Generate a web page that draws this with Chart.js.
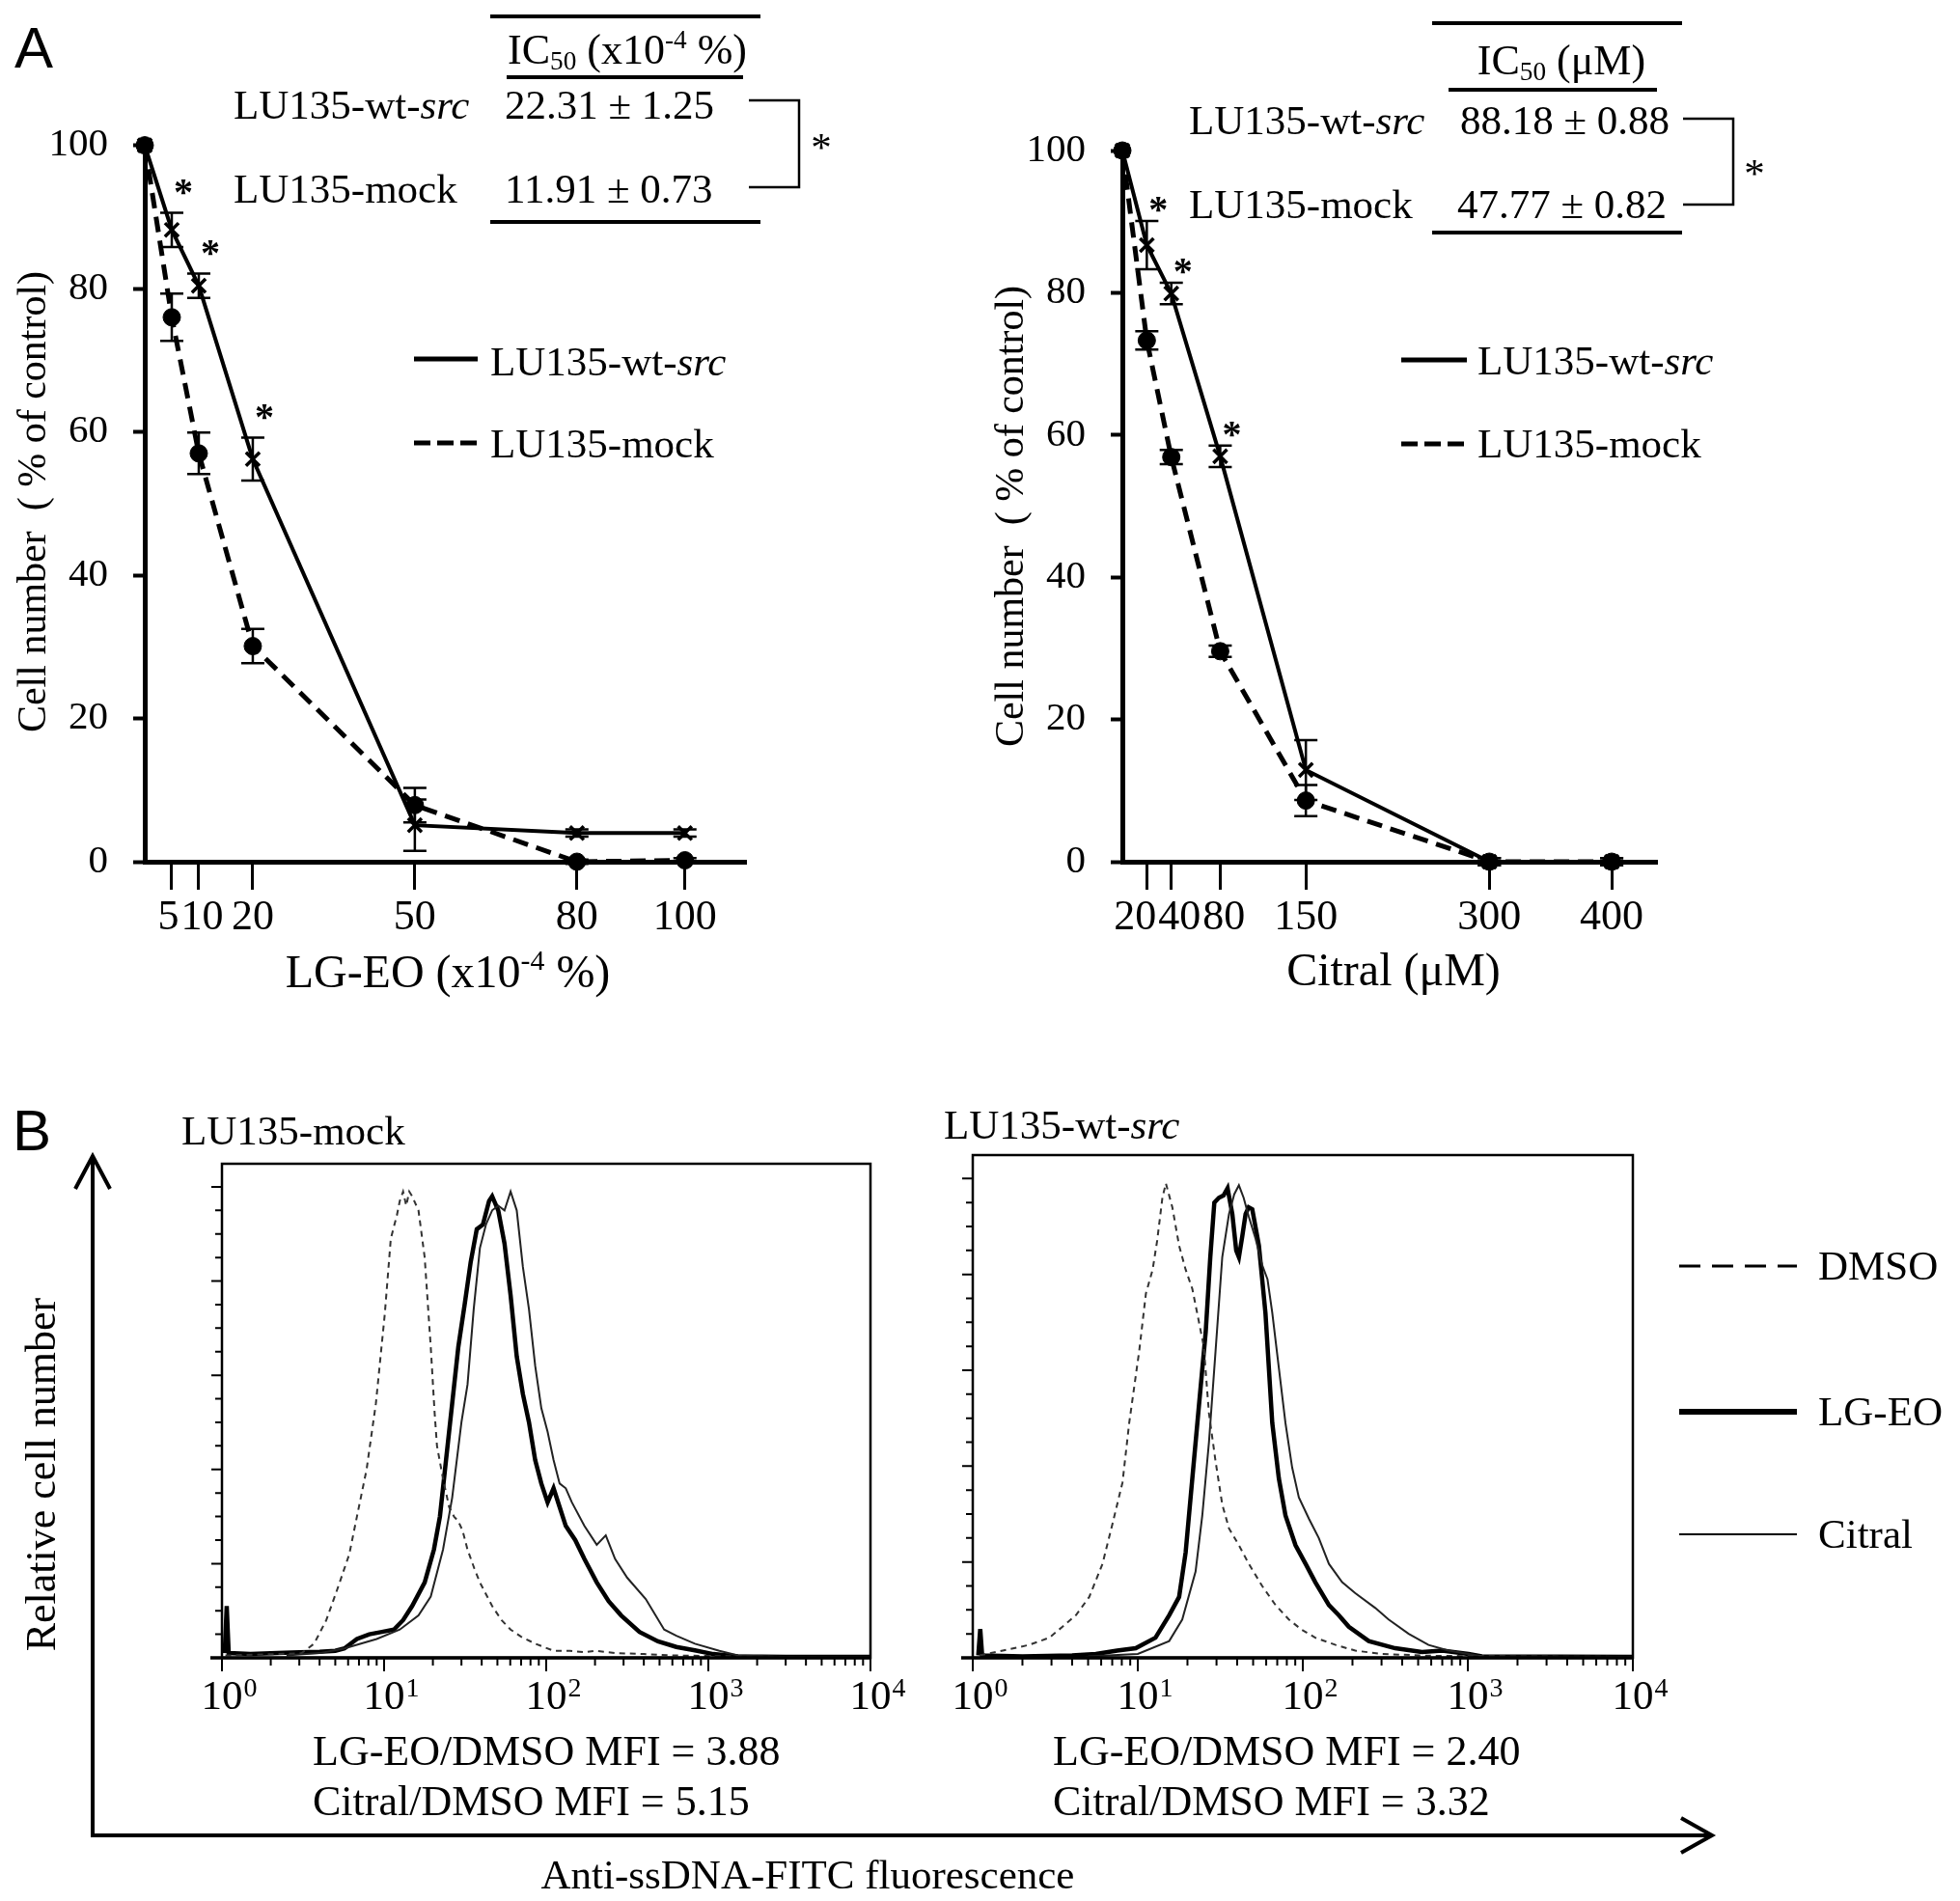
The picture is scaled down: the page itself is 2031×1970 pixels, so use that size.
<!DOCTYPE html>
<html>
<head>
<meta charset="utf-8">
<script src="https://cdn.jsdelivr.net/npm/chart.js@4"></script>
<style>
body{margin:0;background:#fff;}
#fig{position:relative;width:2031px;height:1970px;overflow:hidden;font-family:'Liberation Serif',serif;color:#000;background:#fff;}
#fig canvas{position:absolute;}
#fig svg{position:absolute;left:0;top:0;}
.t{position:absolute;font-size:43px;line-height:50px;height:50px;white-space:nowrap;}
.c{transform:translateX(-50%);}
.r{transform:translate(-50%,-50%) rotate(-90deg);height:auto;}
.big{font-family:'Liberation Sans',sans-serif;font-size:60px;line-height:70px;height:70px;}
.ax{font-size:48px;}
.mfi{font-size:44px;}
sub,sup{font-size:62%;line-height:0;}
sub{vertical-align:-0.22em;}
sup{vertical-align:0.6em;}
</style>
</head>
<body>
<div id="fig">
  <canvas id="doseL" width="800" height="960" style="left:0px;top:100px;width:800px;height:960px"></canvas>
  <canvas id="doseR" width="800" height="960" style="left:1000px;top:100px;width:800px;height:960px"></canvas>
  <canvas id="histL" width="800" height="620" style="left:150px;top:1180px;width:800px;height:620px"></canvas>
  <canvas id="histR" width="800" height="630" style="left:950px;top:1170px;width:800px;height:630px"></canvas>

  <svg width="2031" height="1970">
    <g stroke="#000" fill="none">
      <!-- IC50 tables -->
      <line x1="508" y1="17" x2="788" y2="17" stroke-width="4"/>
      <line x1="525" y1="80" x2="770" y2="80" stroke-width="4"/>
      <line x1="508" y1="230" x2="788" y2="230" stroke-width="4"/>
      <polyline points="776,104 828,104 828,194 776,194" stroke-width="2.5"/>
      <line x1="1484" y1="24" x2="1743" y2="24" stroke-width="4"/>
      <line x1="1501" y1="93" x2="1717" y2="93" stroke-width="4"/>
      <line x1="1484" y1="241" x2="1743" y2="241" stroke-width="4"/>
      <polyline points="1744,123 1796,123 1796,212 1744,212" stroke-width="2.5"/>
      <!-- legends A -->
      <line x1="429" y1="372" x2="495" y2="372" stroke-width="5"/>
      <line x1="429" y1="459" x2="495" y2="459" stroke-width="5" stroke-dasharray="17 7"/>
      <line x1="1452" y1="373" x2="1520" y2="373" stroke-width="5"/>
      <line x1="1452" y1="460" x2="1520" y2="460" stroke-width="5" stroke-dasharray="17 7"/>
      <!-- legend B -->
      <line x1="1740" y1="1312" x2="1862" y2="1312" stroke-width="3" stroke-dasharray="22 12"/>
      <line x1="1740" y1="1463" x2="1862" y2="1463" stroke-width="6"/>
      <line x1="1740" y1="1590" x2="1862" y2="1590" stroke-width="2"/>
      <!-- outer axes of B -->
      <line x1="96" y1="1199" x2="96" y2="1902" stroke-width="4"/>
      <line x1="94" y1="1902" x2="1772" y2="1902" stroke-width="4"/>
      <polyline points="78,1232 96,1198 114,1232" stroke-width="4"/>
      <polyline points="1742,1884 1774,1902 1742,1920" stroke-width="4"/>
    </g>
  </svg>

  <div class="t big" style="left:15px;top:15px">A</div>
  <div class="t c" style="left:650px;top:27px;font-size:44px">IC<sub>50</sub> (x10<sup>-4</sup> %)</div>
  <div class="t" style="left:242px;top:84px">LU135-wt-<i>src</i></div>
  <div class="t" style="left:523px;top:84px">22.31 ± 1.25</div>
  <div class="t" style="left:242px;top:171px">LU135-mock</div>
  <div class="t" style="left:523px;top:171px">11.91 ± 0.73</div>
  <div class="t c" style="left:851px;top:128px">*</div>
  <div class="t" style="left:508px;top:350px">LU135-wt-<i>src</i></div>
  <div class="t" style="left:508px;top:435px">LU135-mock</div>
  <div class="t c ax" style="left:464px;top:982px">LG-EO (x10<sup>-4</sup> %)</div>
  <div class="t r" style="left:33px;top:520px;font-size:42px">Cell number&nbsp; ( % of control)</div>

  <div class="t c" style="left:1618px;top:38px;font-size:44px">IC<sub>50</sub> (μM)</div>
  <div class="t" style="left:1232px;top:100px">LU135-wt-<i>src</i></div>
  <div class="t" style="left:1513px;top:100px">88.18 ± 0.88</div>
  <div class="t" style="left:1232px;top:187px">LU135-mock</div>
  <div class="t" style="left:1510px;top:187px">47.77 ± 0.82</div>
  <div class="t c" style="left:1818px;top:155px">*</div>
  <div class="t" style="left:1531px;top:349px">LU135-wt-<i>src</i></div>
  <div class="t" style="left:1531px;top:435px">LU135-mock</div>
  <div class="t c ax" style="left:1444px;top:980px">Citral (μM)</div>
  <div class="t r" style="left:1046px;top:535px;font-size:42px">Cell number&nbsp; ( % of control)</div>

  <div class="t big" style="left:13px;top:1137px">B</div>
  <div class="t" style="left:188px;top:1147px">LU135-mock</div>
  <div class="t" style="left:978px;top:1141px">LU135-wt-<i>src</i></div>
  <div class="t mfi" style="left:324px;top:1790px">LG-EO/DMSO MFI = 3.88</div>
  <div class="t mfi" style="left:324px;top:1842px">Citral/DMSO MFI = 5.15</div>
  <div class="t mfi" style="left:1091px;top:1790px">LG-EO/DMSO MFI = 2.40</div>
  <div class="t mfi" style="left:1091px;top:1842px">Citral/DMSO MFI = 3.32</div>
  <div class="t" style="left:1884px;top:1287px">DMSO</div>
  <div class="t" style="left:1884px;top:1438px">LG-EO</div>
  <div class="t" style="left:1884px;top:1565px">Citral</div>
  <div class="t r" style="left:43px;top:1528px;font-size:44px">Relative cell number</div>
  <div class="t c" style="left:837px;top:1918px">Anti-ssDNA-FITC fluorescence</div>
</div>

<script>
// ---- A: dose response, LG-EO ----
var lgeoDose = [0, 5, 10, 20, 50, 80, 100];
var lgeoWt = [100, 88.2, 80.4, 56.2, 5.1, 4.0, 4.0];
var lgeoWtErr = [0, 2.4, 1.7, 3.0, 3.6, 0.5, 0.5];
var lgeoMock = [100, 76.0, 57.0, 30.1, 7.9, 0, 0.2];
var lgeoMockErr = [0, 3.3, 2.9, 2.4, 2.4, 0.3, 0.3];
var lgeoSig = [0, 1, 1, 1, 0, 0, 0];
var lgeoTicks = [5, 10, 20, 50, 80, 100];

// ---- A: dose response, citral ----
var citralDose = [0, 20, 40, 80, 150, 300, 400];
var citralWt = [100, 86.7, 79.9, 57.0, 12.9, 0, 0];
var citralWtErr = [0, 3.4, 1.5, 1.5, 4.2, 0.5, 0.5];
var citralMock = [100, 73.3, 56.9, 29.6, 8.6, 0, 0];
var citralMockErr = [0, 1.3, 1.0, 0.8, 2.2, 0.5, 0.5];
var citralSig = [0, 1, 1, 1, 0, 0, 0];
var citralTicks = [20, 40, 80, 150, 300, 400];

var doseYTicks = [0, 20, 40, 60, 80, 100];

// ---- B: flow histograms [fluorescence, relative count] ----
var mockDMSO = [[1.05,0.5],[2.2,0.8],[3.1,1],[3.7,3],[4.4,8],[5.2,15],[6.1,22],[6.8,30],[7.8,40],[8.9,54],[10.1,73],[11.0,89],[12.0,94],[12.5,97],[13.1,99],[13.7,96],[14.3,99],[14.9,98],[16.3,95],[17.8,85],[19.4,66],[20.5,52],[21.2,45],[23.1,38],[25.2,32],[27,30],[28.7,29],[30.5,27],[32.7,23],[36,19],[39,16],[46.4,11],[53,8],[60.3,6],[70,4.5],[85.5,3],[111,1.5],[140,1.5],[172,1.2],[200,1.5],[266,1],[400,0.8],[635,0.5],[1000,0.4],[1520,0.3],[3000,0.2],[10000,0.2]];
var mockLGEO = [[1.04,1],[1.07,11],[1.1,1],[1.5,0.8],[2.2,1],[3,1.2],[4,1.3],[5,1.5],[5.7,2],[6.8,4],[8.1,5],[9.7,5.5],[11.5,6],[13.1,8],[14.9,11],[17.8,16],[20.3,23],[22.1,30],[24.1,42],[26.3,54],[28.7,66],[31.4,75],[34.2,84],[37.3,91],[40.7,92],[44.4,97],[46.4,98],[50.6,95],[55.3,88],[60.3,77],[65.8,64],[71.8,56],[78.3,50],[85.5,42],[93.3,37],[102,33],[111,36],[121,32],[132,28],[151,25],[172,21],[205,16],[243,12],[290,9],[376,5.5],[489,3.5],[635,2.3],[826,1.6],[1072,0.8],[1520,0.3],[3000,0.2],[10000,0.2]];
var mockCitral = [[2.5,0.5],[4,1],[5.7,2],[9,4],[12.5,6],[16.3,9],[19.4,13],[23.1,23],[26.3,34],[30,50],[32.7,58],[35.7,74],[39,87],[42.5,92],[46.4,95],[50.6,96],[55.3,95],[60.3,99],[65.8,95],[71.8,83],[78.3,74],[85.5,62],[93.3,53],[102,48],[111,42],[121,37],[132,36],[144,33],[172,28],[205,24],[233,26],[266,21],[316,17],[411,12.5],[534,6],[635,4.7],[826,3],[1170,1.5],[1520,0.5],[3000,0.2],[10000,0.2]];

var srcDMSO = [[1.1,0.5],[1.52,1.5],[2.2,2.7],[2.91,4.2],[3.5,6.5],[4.22,8.9],[5.08,12.7],[6.11,19.6],[7.03,28],[8.08,36.6],[8.87,49],[10.2,64],[11.2,76],[12.3,81],[13.1,87],[14.1,96],[14.8,99],[16.2,94],[17.8,86],[19.5,81],[21.4,77],[23.5,70],[25.1,65],[27,51],[29.6,41],[32.5,32],[35.7,27],[41,23.5],[47.1,19.6],[56.7,15],[68.4,11],[82.3,8],[99,5.8],[119,4.2],[158,2.7],[208,1.5],[302,0.8],[634,0.4],[10000,0.2]];
var srcLGEO = [[1.08,0.5],[1.11,6],[1.14,0.5],[2,0.3],[4,0.5],[5.57,0.8],[7.5,1.5],[9.72,2],[12.8,4.2],[15.5,8.9],[17.8,12.7],[19.5,22],[21.4,37.4],[23.5,52.8],[25.8,68],[27.5,83.6],[29.1,95],[31,96],[33.1,96.5],[35,98],[37.4,92.6],[39.5,85],[41,83.6],[43,88],[45,92.6],[47,94],[49.4,93.6],[54.2,86],[59.4,71.9],[65.3,49],[71.6,37.4],[78.5,29.7],[90.3,23.5],[104,19.6],[119,15.8],[144,11],[165,8.9],[190,6.5],[251,3.5],[363,2],[527,1.2],[700,1.5],[1009,0.8],[1216,0.3],[10000,0.2]];
var srcCitral = [[5,0.3],[10,0.8],[15.5,3.5],[18.6,8],[22.4,18],[24.6,29.7],[27,45],[29.6,64],[32.5,83.6],[35.7,92.6],[38.4,96.7],[41,98.6],[43.8,96],[47.1,92],[51.7,87.5],[56.7,82],[61.1,79],[65.3,72],[71.6,60.5],[78.5,49],[86.2,39.7],[94.6,33.5],[109,29],[125,25],[144,19.6],[173,15.8],[208,13.5],[275,10.4],[331,8],[438,5],[578,2.7],[764,1.5],[1009,0.8],[1216,0.3],[10000,0.2]];

var histDecades = [1, 10, 100, 1000, 10000];
var histYMajor = [0, 20, 40, 60, 80, 100];

var serif = "'Liberation Serif', serif";

// error bars, significance stars and x tick labels (pushed apart where they would collide)
var errPlugin = {
  id: 'errs',
  afterDatasetsDraw: function (chart) {
    var ctx = chart.ctx, xs = chart.scales.x, ys = chart.scales.y;
    var lift = chart.options.starLift || 0;
    ctx.save();
    ctx.strokeStyle = '#000';
    ctx.fillStyle = '#000';
    ctx.lineWidth = 2.5;
    ctx.setLineDash([]);
    ctx.font = 'bold 40px ' + serif;
    ctx.textAlign = 'center';
    ctx.textBaseline = 'alphabetic';
    chart.data.datasets.forEach(function (ds) {
      if (!ds.err) return;
      ds.data.forEach(function (p, i) {
        var e = ds.err[i];
        var x = xs.getPixelForValue(p.x);
        var y1 = ys.getPixelForValue(p.y + e);
        var y2 = ys.getPixelForValue(p.y - e);
        if (e) {
          ctx.beginPath();
          ctx.moveTo(x, y1); ctx.lineTo(x, y2);
          ctx.moveTo(x - 12, y1); ctx.lineTo(x + 12, y1);
          ctx.moveTo(x - 12, y2); ctx.lineTo(x + 12, y2);
          ctx.stroke();
        }
        if (ds.sig && ds.sig[i]) {
          ctx.fillText('*', x + 12, y1 + 2 - lift);
        }
      });
    });

    ctx.font = '44px ' + serif;
    var items = chart.options.xLabels.map(function (v) {
      return {t: String(v), c: xs.getPixelForValue(v), w: ctx.measureText(String(v)).width};
    });
    for (var it = 0; it < 30; it++) {
      for (var i = 1; i < items.length; i++) {
        var a = items[i - 1], b = items[i];
        var gap = (b.c - b.w / 2) - (a.c + a.w / 2) - 2;
        if (gap < 0) { a.c += gap / 2; b.c -= gap / 2; }
      }
    }
    items.forEach(function (o) {
      ctx.fillText(o.t, o.c, chart.chartArea.bottom + 70);
    });
    ctx.restore();
  }
};

function doseChart(id, dose, wt, wtErr, mock, mockErr, sig, xTicks, xMax, yWidth, pad, starLift) {
  var ctx = document.getElementById(id).getContext('2d');
  return new Chart(ctx, {
    type: 'scatter',
    data: {
      datasets: [{
        label: 'LU135-mock',
        data: dose.map(function (d, i) { return {x: d, y: mock[i]}; }),
        err: mockErr,
        showLine: true,
        borderColor: '#000',
        borderWidth: 5,
        borderDash: [16, 9],
        pointStyle: 'circle',
        pointRadius: 9,
        pointBackgroundColor: '#000',
        pointBorderColor: '#000',
        pointBorderWidth: 1,
        clip: false
      }, {
        label: 'LU135-wt-src',
        data: dose.map(function (d, i) { return {x: d, y: wt[i]}; }),
        err: wtErr,
        sig: sig,
        showLine: true,
        borderColor: '#000',
        borderWidth: 4,
        pointStyle: 'crossRot',
        pointRadius: 10,
        pointBorderColor: '#000',
        pointBorderWidth: 3.5,
        clip: false
      }]
    },
    options: {
      responsive: false,
      animation: false,
      xLabels: xTicks,
      starLift: starLift,
      layout: {padding: pad},
      plugins: {legend: {display: false}, tooltip: {enabled: false}},
      scales: {
        x: {
          type: 'linear', min: 0, max: xMax,
          afterBuildTicks: function (s) { s.ticks = xTicks.map(function (v) { return {value: v}; }); },
          afterFit: function (s) { s.height = 167; },
          border: {display: true, color: '#000', width: 5},
          grid: {drawOnChartArea: false, drawTicks: true, tickLength: 29, tickWidth: 3, tickColor: '#000', color: '#000'},
          ticks: {display: false}
        },
        y: {
          min: 0, max: 100,
          afterBuildTicks: function (s) { s.ticks = doseYTicks.map(function (v) { return {value: v}; }); },
          afterFit: function (s) { s.width = yWidth; },
          border: {display: true, color: '#000', width: 5},
          grid: {drawOnChartArea: false, drawTicks: true, tickLength: 12, tickWidth: 4, tickColor: '#000', color: '#000'},
          ticks: {padding: 26, color: '#000', font: {family: serif, size: 41}}
        }
      }
    },
    plugins: [errPlugin]
  });
}

doseChart('doseL', lgeoDose, lgeoWt, lgeoWtErr, lgeoMock, lgeoMockErr, lgeoSig, lgeoTicks, 111.3, 150, {top: 48, right: 27, left: 0, bottom: 0}, 10);
doseChart('doseR', citralDose, citralWt, citralWtErr, citralMock, citralMockErr, citralSig, citralTicks, 437, 163, {top: 56, right: 83, left: 0, bottom: 0}, 1);

// box, log ticks and 10^n labels for the flow histograms
var histAxes = {
  id: 'histAxes',
  afterDraw: function (chart) {
    var ctx = chart.ctx, a = chart.chartArea, xs = chart.scales.x, ys = chart.scales.y;
    ctx.save();
    ctx.strokeStyle = '#000';
    ctx.fillStyle = '#000';
    ctx.setLineDash([]);
    ctx.lineWidth = 2.5;
    ctx.strokeRect(a.left, a.top, a.right - a.left, a.bottom - a.top);
    ctx.lineWidth = 3.5;
    ctx.beginPath();
    ctx.moveTo(a.left - 12, a.bottom); ctx.lineTo(a.right, a.bottom);
    ctx.stroke();
    ctx.lineWidth = 2;
    ctx.beginPath();
    histDecades.forEach(function (d) {
      var x = xs.getPixelForValue(d);
      ctx.moveTo(x, a.bottom); ctx.lineTo(x, a.bottom + 14);
      if (d < 10000) {
        for (var k = 2; k <= 9; k++) {
          var xm = xs.getPixelForValue(d * k);
          ctx.moveTo(xm, a.bottom); ctx.lineTo(xm, a.bottom + 8);
        }
      }
    });
    for (var v = 5; v <= 100; v += 5) {
      var y = ys.getPixelForValue(v);
      var len = histYMajor.indexOf(v) >= 0 ? 11 : 7;
      ctx.moveTo(a.left, y); ctx.lineTo(a.left - len, y);
    }
    ctx.stroke();
    histDecades.forEach(function (d, i) {
      var x = xs.getPixelForValue(d);
      ctx.font = '43px ' + serif;
      ctx.textAlign = 'center';
      ctx.textBaseline = 'alphabetic';
      ctx.fillText('10', x, a.bottom + 53);
      var w = ctx.measureText('10').width;
      ctx.font = '28px ' + serif;
      ctx.textAlign = 'left';
      ctx.fillText(String(i), x + w / 2 + 1, a.bottom + 40);
    });
    ctx.restore();
  }
};

function histChart(id, dmso, lgeo, citral, pad) {
  var ctx = document.getElementById(id).getContext('2d');
  function pts(arr) { return arr.map(function (p) { return {x: p[0], y: p[1]}; }); }
  return new Chart(ctx, {
    type: 'scatter',
    data: {
      datasets: [
        {label: 'DMSO', data: pts(dmso), showLine: true, borderColor: '#333', borderWidth: 2, borderDash: [6, 5], pointRadius: 0},
        {label: 'Citral', data: pts(citral), showLine: true, borderColor: '#222', borderWidth: 2, pointRadius: 0},
        {label: 'LG-EO', data: pts(lgeo), showLine: true, borderColor: '#000', borderWidth: 4.5, pointRadius: 0}
      ]
    },
    options: {
      responsive: false,
      animation: false,
      layout: {padding: pad},
      plugins: {legend: {display: false}, tooltip: {enabled: false}},
      scales: {
        x: {type: 'logarithmic', min: 1, max: 10000, display: false},
        y: {type: 'linear', min: 0, max: 104.9, display: false}
      }
    },
    plugins: [histAxes]
  });
}

histChart('histL', mockDMSO, mockLGEO, mockCitral, {left: 80, right: 48, top: 26, bottom: 82});
histChart('histR', srcDMSO, srcLGEO, srcCitral, {left: 58, right: 58, top: 27, bottom: 82});
</script>
</body>
</html>
